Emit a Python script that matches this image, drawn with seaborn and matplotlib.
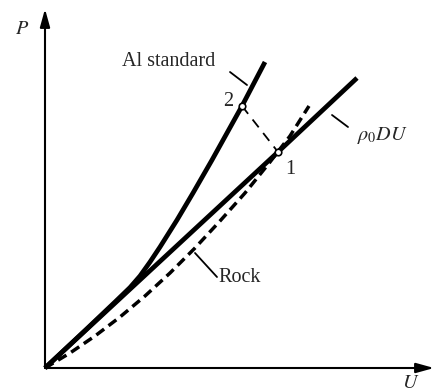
import matplotlib
matplotlib.use("Agg")
import matplotlib.pyplot as plt
import seaborn as sns
import pandas as pd

# ---- data (U, P in arbitrary units) ----
al_U = [0, 40, 70, 85, 95, 105, 115, 132, 148, 167, 197, 220]
al_P = [0, 37.5, 66, 80.5, 92, 106, 121, 148, 175, 208, 262, 306]

line_U = [0, 233, 312]
line_P = [0, 216, 290]

rock_U = [0, 25, 50, 75, 100, 125, 150, 175, 200, 225, 245, 264]
rock_P = [0, 15, 32, 51, 72, 95, 120, 147, 175, 206, 232, 262]

link_U = [197, 233]
link_P = [262, 216]

pts_U = [233, 197]
pts_P = [216, 262]
pts_labels = ["1", "2"]

sns.set_theme(style="white")
plt.rcParams['font.family'] = ['Liberation Serif', 'DejaVu Serif']
plt.rcParams['mathtext.fontset'] = 'stix'

fig = plt.figure(figsize=(4.34, 3.91), dpi=100)
ax = fig.add_axes([0, 0, 1, 1])
ax.set_xlim(-45, 389)
ax.set_ylim(-23, 368)
ax.axis("off")

al = pd.DataFrame({"U": al_U, "P": al_P})
ln = pd.DataFrame({"U": line_U, "P": line_P})
rk = pd.DataFrame({"U": rock_U, "P": rock_P})
lk = pd.DataFrame({"U": link_U, "P": link_P})

sns.lineplot(data=al, x="U", y="P", ax=ax, color="black", lw=3.4,
             solid_capstyle="butt")
sns.lineplot(data=ln, x="U", y="P", ax=ax, color="black", lw=3.4,
             solid_capstyle="butt")
sns.lineplot(data=rk, x="U", y="P", ax=ax, color="black", lw=2.5)
ax.lines[-1].set_dashes((2.8, 1.6))
ax.lines[-1].set_dash_capstyle("butt")
sns.lineplot(data=lk, x="U", y="P", ax=ax, color="black", lw=1.3)
ax.lines[-1].set_dashes((5.5, 4.0))

ax.scatter(pts_U, pts_P, s=22, facecolor="white", edgecolor="black",
           linewidth=1.2, zorder=5)

# axes arrows
ax.annotate("", xy=(389, 0), xytext=(0, 0),
            arrowprops=dict(arrowstyle="-|>,head_length=0.9,head_width=0.25",
                            color="black", lw=1.5, shrinkA=0, shrinkB=0))
ax.annotate("", xy=(0, 359), xytext=(0, 0),
            arrowprops=dict(arrowstyle="-|>,head_length=0.9,head_width=0.25",
                            color="black", lw=1.5, shrinkA=0, shrinkB=0))

# leader lines
ax.plot([185, 202], [296, 283], color="black", lw=1.3)
ax.plot([287, 303], [253, 241], color="black", lw=1.3)
ax.plot([150, 172], [115, 91], color="black", lw=1.3)

fs = 14.5
ax.text(-23, 338, "$P$", fontsize=fs, ha="center", va="center")
ax.text(366, -15, "$U$", fontsize=fs, ha="center", va="center")
ax.text(124, 306, "Al standard", fontsize=fs, ha="center", va="center")
ax.text(312, 233, r"$\rho_0DU$", fontsize=fs, ha="left", va="center")
ax.text(173, 90, "Rock", fontsize=fs, ha="left", va="center")
ax.text(pts_U[0] + 12, pts_P[0] - 17, pts_labels[0], fontsize=fs,
        ha="center", va="center")
ax.text(pts_U[1] - 14, pts_P[1] + 4, pts_labels[1], fontsize=fs,
        ha="center", va="center")

fig.savefig("out.png", dpi=100)
